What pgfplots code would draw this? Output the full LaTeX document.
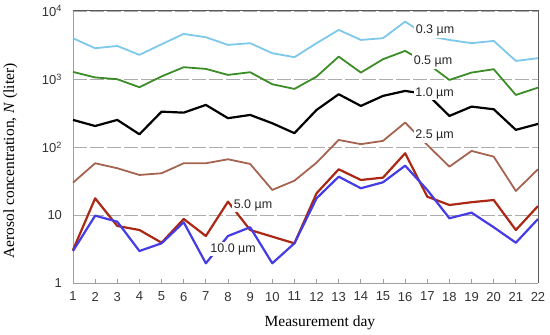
\documentclass[border=0pt]{standalone}
\usepackage{pgfplots}
\pgfplotsset{compat=1.18}
\usepackage{fontspec}
\setmainfont{Liberation Serif}
\newfontfamily\arialf{Liberation Sans}
\definecolor{c03}{RGB}{125,200,235}
\definecolor{c05}{RGB}{60,140,40}
\definecolor{c25}{RGB}{165,100,80}
\definecolor{c50}{RGB}{170,40,20}
\definecolor{c100}{RGB}{70,60,230}
\definecolor{bord}{RGB}{90,90,90}
\begin{document}
\begin{tikzpicture}
\path[use as bounding box] (0,0) rectangle (550pt,335pt);
\begin{axis}[
  at={(73pt,51.5pt)}, anchor=south west,
  scale only axis, width=465pt, height=272.5pt,
  ymode=log, xmin=1, xmax=22, ymin=1, ymax=10000,
  xtick={1,2,3,4,5,6,7,8,9,10,11,12,13,14,15,16,17,18,19,20,21,22},
  xticklabels={1,2,3,4,5,6,7,8,9,10,11,12,13,14,15,16,17,18,19,20,21,22},
  ytick={1,10,100,1000,10000},
  yticklabels={1,10,10\textsuperscript{2},10\textsuperscript{3},10\textsuperscript{4}},
  axis x line*=bottom, axis y line*=left,
  axis line style={gray!75, line width=1pt, -},
  tick align=inside, major tick length=5pt,
  xtick style={gray!75, line width=0.8pt},
  ytick style={draw=none},
  minor tick num=0,
  ymajorgrids, grid style={gray!65, line width=0.9pt, dash pattern=on 14pt off 3pt},
  tick label style={font=\arialf\fontsize{13}{13}\selectfont, text=black!80},
  xticklabel style={yshift=-5pt},
  yticklabel style={xshift=-7.5pt},
  xlabel={Measurement day},
  ylabel={Aerosol concentration, \textit{N} (liter)},
  label style={font=\fontsize{15.5}{15.5}\selectfont},
  xlabel style={at={(axis description cs:0.531,-0.145)}, anchor=center},
  ylabel style={at={(axis description cs:-0.1344,0.45)}, anchor=center},
  every axis plot/.append style={line join=round, no markers},
  clip=false,
]
\addplot[c03, line width=1.8pt] coordinates {(1,3980)(2,2840)(3,3070)(4,2270)(5,3250)(6,4610)(7,4120)(8,3180)(9,3370)(10,2400)(11,2100)(12,3370)(13,5280)(14,3760)(15,3990)(16,6980)(17,4300)(18,3760)(19,3370)(20,3640)(21,1850)(22,2030)};
\addplot[c05, line width=1.8pt] coordinates {(1,1276)(2,1059)(3,997)(4,760)(5,1096)(6,1496)(7,1413)(8,1153)(9,1262)(10,841)(11,718)(12,1089)(13,2140)(14,1247)(15,1960)(16,2595)(17,1700)(18,973)(19,1247)(20,1398)(21,586)(22,750)};
\addplot[black, line width=2.2pt] coordinates {(1,252)(2,205)(3,252)(4,155)(5,333)(6,322)(7,418)(8,267)(9,298)(10,225)(11,161)(12,353)(13,600)(14,404)(15,567)(16,671)(17,600)(18,288)(19,395)(20,361)(21,180)(22,220)};
\addplot[c25, line width=1.8pt] coordinates {(1,30.2)(2,58.2)(3,49.2)(4,39.2)(5,41.5)(6,58.2)(7,58.2)(8,66.6)(9,56.9)(10,23.6)(11,32.3)(12,59.4)(13,128)(14,111)(15,124)(16,230)(17,108)(18,51.9)(19,88.3)(20,72.8)(21,22.8)(22,47.5)};
\addplot[c50, line width=2.2pt] coordinates {(1,3.1)(2,17.8)(3,6.99)(4,6.1)(5,3.97)(6,8.85)(7,4.98)(8,15.9)(9,6.1)(10,4.87)(11,3.89)(12,21.1)(13,47.5)(14,33.1)(15,35.8)(16,81.6)(17,18.8)(18,14.2)(19,15.6)(20,16.8)(21,6.1)(22,13.7)};
\addplot[c100, line width=2.2pt] coordinates {(1,3.0)(2,9.9)(3,8.08)(4,3.0)(5,3.89)(6,7.92)(7,1.98)(8,4.98)(9,6.69)(10,1.98)(11,3.89)(12,17.8)(13,37)(14,25)(15,30.6)(16,53.7)(17,23.6)(18,9.07)(19,10.96)(20,6.69)(21,3.97)(22,8.85)};
\begin{scope}[every node/.style={fill=white, inner sep=1.5pt, text=black!85, font=\arialf\fontsize{12.5}{12.5}\selectfont}]
\node at (axis cs:17.35,5100) {0.3 µm};
\node at (axis cs:17.26,1807) {0.5 µm};
\node at (axis cs:17.33,621) {1.0 µm};
\node at (axis cs:17.33,146.6) {2.5 µm};
\node at (axis cs:9.13,14.2) {5.0 µm};
\node at (axis cs:8.23,3.21) {10.0 µm};
\end{scope}
\draw[bord, line width=1pt] (rel axis cs:0,1) -- (rel axis cs:1,1) -- (rel axis cs:1,0);
\end{axis}
\end{tikzpicture}
\end{document}
